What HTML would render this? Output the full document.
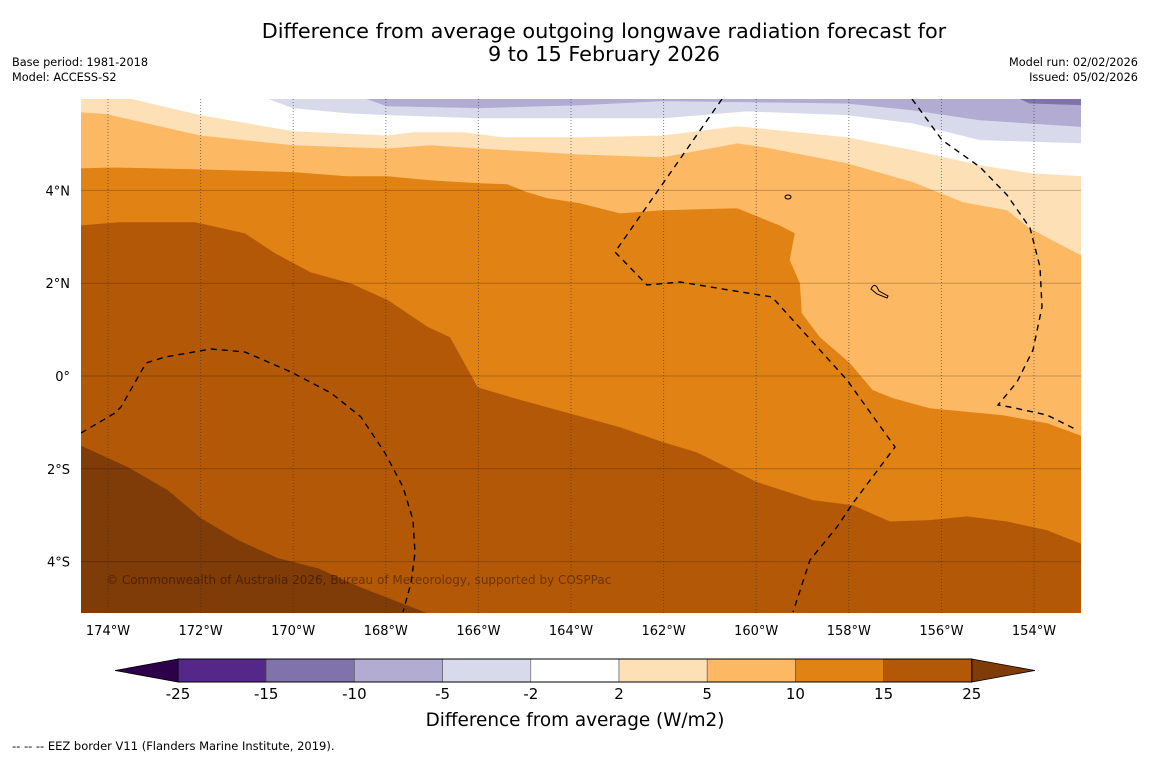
<!DOCTYPE html>
<html><head><meta charset="utf-8">
<style>
html,body{margin:0;padding:0;background:#fff;width:1150px;height:758px;overflow:hidden;font-family:"DejaVu Sans","Liberation Sans",sans-serif;}
svg{display:block}
</style></head>
<body>
<svg id="chart" width="1150" height="758" viewBox="0 0 1150 758" xmlns="http://www.w3.org/2000/svg">
<defs><clipPath id="plotclip"><rect x="81" y="99" width="1000" height="514"/></clipPath></defs>
<text x="604" y="38" font-size="20.8" text-anchor="middle" fill="#000">Difference from average outgoing longwave radiation forecast for</text>
<text x="604" y="61" font-size="20.8" text-anchor="middle" fill="#000">9 to 15 February 2026</text>
<text x="12" y="66" font-size="11.3">Base period: 1981-2018</text>
<text x="12" y="81" font-size="11.3">Model: ACCESS-S2</text>
<text x="1138" y="66" font-size="11.3" text-anchor="end">Model run: 02/02/2026</text>
<text x="1138" y="81" font-size="11.3" text-anchor="end">Issued: 05/02/2026</text>
<g id="map" clip-path="url(#plotclip)"></g>
<g id="axes"></g>
<g id="cbar"></g>
<text x="575" y="726" font-size="18.4" text-anchor="middle">Difference from average (W/m2)</text>
<text x="12" y="750" font-size="11.5">--  --  -- EEZ border V11 (Flanders Marine Institute, 2019).</text>
</svg>
<script>
// ---- data ----
const levels = [-25,-15,-10,-5,-2,2,5,10,15,25];
const levelColors = ["#542788","#8073ac","#b2abd2","#d8daeb","#ffffff","#fee0b6","#fdb863","#e08214","#b35806"];
const underColor = "#2d004b";
const overColor = "#7f3b08";
const lonTicks = [-174,-172,-170,-168,-166,-164,-162,-160,-158,-156,-154];
const latTicks = [4,2,0,-2,-4];
const latTickLabels = ["4°N","2°N","0°","2°S","4°S"];
// contour boundaries [lon, lat]; region above each line has the next lighter class
const b25 = [[-174.6,-1.49],[-173.57,-1.96],[-172.70,-2.46],[-171.99,-3.06],[-171.19,-3.53],[-170.33,-3.92],[-169.46,-4.14],[-168.54,-4.55],[-167.09,-5.11],[-166.61,-5.26]];
const b15 = [[-174.6,3.25],[-173.78,3.32],[-172.12,3.32],[-171.04,3.08],[-170.39,2.65],[-169.62,2.24],[-168.75,2.00],[-167.95,1.64],[-167.09,1.06],[-166.61,0.84],[-166.01,-0.24],[-165.30,-0.45],[-163.74,-0.88],[-162.94,-1.10],[-162.01,-1.42],[-161.28,-1.64],[-159.98,-2.28],[-158.77,-2.67],[-157.91,-2.78],[-157.11,-3.13],[-156.25,-3.10],[-155.45,-3.02],[-154.58,-3.13],[-153.72,-3.32],[-152.9,-3.64]];
const b10 = [[-174.6,4.48],[-173.89,4.50],[-172.01,4.46],[-170.00,4.40],[-168.84,4.31],[-167.97,4.31],[-166.98,4.22],[-165.97,4.16],[-165.38,4.14],[-164.95,3.97],[-164.52,3.84],[-163.81,3.73],[-162.94,3.51],[-162.01,3.58],[-160.41,3.62],[-159.49,3.25],[-159.16,3.08],[-159.27,2.50],[-159.05,2.00],[-159.01,1.36],[-158.62,0.84],[-157.97,0.28],[-157.48,-0.30],[-157.05,-0.47],[-156.25,-0.69],[-154.67,-0.84],[-153.72,-1.01],[-152.9,-1.31]];
const b5 = [[-174.6,5.69],[-174.02,5.65],[-173.81,5.60],[-172.01,5.19],[-170.00,4.98],[-167.97,4.91],[-167.05,4.98],[-165.97,4.91],[-163.81,4.78],[-162.01,4.72],[-160.41,5.02],[-159.85,4.94],[-158.04,4.59],[-156.61,4.18],[-155.53,3.75],[-154.58,3.58],[-154.09,3.19],[-152.9,2.56]];
const b2 = [[-173.57,6.2],[-173.46,5.97],[-172.01,5.63],[-170.00,5.28],[-167.97,5.19],[-167.41,5.26],[-166.33,5.26],[-165.47,5.15],[-163.81,5.15],[-162.01,5.19],[-160.41,5.39],[-158.04,5.15],[-156.61,4.87],[-155.17,4.55],[-154.09,4.38],[-152.9,4.31]];
const bm2 = [[-171.15,6.2],[-170.00,5.78],[-168.84,5.67],[-167.97,5.63],[-165.97,5.56],[-163.81,5.56],[-162.01,5.56],[-160.20,5.71],[-158.04,5.63],[-156.61,5.45],[-155.17,5.09],[-152.9,5.02]];
const bm5 = [[-169.05,6.2],[-167.97,5.82],[-165.97,5.78],[-163.81,5.84],[-162.01,5.93],[-158.04,5.88],[-156.61,5.73],[-155.17,5.52],[-152.9,5.37]];
const bm10 = [[-154.80,6.2],[-154.09,5.88],[-152.9,5.84]];

// ---- axis functions ----
const X = lon => 108 + (lon + 174) * 46.3;
const Y = lat => 376 - lat * 46.4;
const NS = "http://www.w3.org/2000/svg";
function mk(tag, attrs, parent){const e=document.createElementNS(NS,tag);for(const k in attrs)e.setAttribute(k,attrs[k]);parent.appendChild(e);return e;}

const map = document.getElementById('map');
const bg = mk('rect',{x:81,y:99,width:1000,height:514,fill:overColor},map);


const bounds = [b25,b15,b10,b5,b2,bm2,bm5,bm10];
const fills = [levelColors[8],levelColors[7],levelColors[6],levelColors[5],levelColors[4],levelColors[3],levelColors[2],levelColors[1]];
const names = ['region-15-25','region-10-15','region-5-10','region-2-5','region-neutral','region-minus2-minus5','region-minus5-minus10','region-minus10-minus15'];
bounds.forEach((b,i)=>{
  let pts = b.map(p=>X(p[0]).toFixed(1)+','+Y(p[1]).toFixed(1));
  const last=b[b.length-1], first=b[0];
  pts.push(X(-152.5)+','+Y(last[1]));
  pts.push(X(-152.5)+','+Y(7));
  pts.push(X(first[0]<-174.5?-175:first[0])+','+Y(7));
  if(first[0]<-174.5) pts.unshift(X(-175)+','+Y(first[1]));
  const poly = mk('polygon',{points:pts.join(' '),fill:fills[i],stroke:fills[i],'stroke-width':0.6},map);
  
  
});
// grid
latTicks.forEach(lat=>{
  const l = mk('line',{x1:81,x2:1081,y1:Y(lat),y2:Y(lat),stroke:'#000','stroke-opacity':0.22,'stroke-width':1},map);
  
  
});
lonTicks.forEach(lon=>{
  const l = mk('line',{x1:X(lon),x2:X(lon),y1:99,y2:613,stroke:'#333','stroke-opacity':0.6,'stroke-width':1,'stroke-dasharray':'1,2'},map);
  
  
});
// EEZ borders
const eez = [
 "M81,433 L115,413 L121,407 L146,363 L165,357 L211,349 L245,352 L291,372 L331,393 L361,417 L385,453 L403,487 L413,520 L415,553 L411,583 L403,612",
 "M722,99 L615,252 L647,285 L680,282 L772,297 L847,380 L895,447 L853,503 L837,527 L810,560 L793,612",
 "M912,99 L942,140 L980,167 L1007,195 L1030,228 L1040,267 L1042,307 L1033,350 L1017,382 L998,405 L1010,407 L1047,415 L1077,430"
];
eez.forEach(d=>{
  const p = mk('path',{d:d,fill:'none',stroke:'#000','stroke-width':1.4,'stroke-dasharray':'6,5'},map);
  
  
});
// islands
const isl = mk('path',{d:"M871,289 q3,-6 6,-2 l2,4 l9,5 l-1,2 l-10,-4 z",fill:'none',stroke:'#000','stroke-width':1},map);


const isl2 = mk('ellipse',{cx:788,cy:197,rx:3,ry:2,fill:'none',stroke:'#000','stroke-width':1},map);


const cp = mk('text',{x:106,y:584,'font-size':12,fill:'#000','fill-opacity':0.4},map);
cp.textContent='© Commonwealth of Australia 2026, Bureau of Meteorology, supported by COSPPac';



// axes labels
const axes = document.getElementById('axes');
latTicks.forEach((lat,i)=>{
  const t = mk('text',{x:70,y:Y(lat)+5,'font-size':13,'text-anchor':'end'},axes);
  t.textContent = latTickLabels[i];
  
  
});
lonTicks.forEach(lon=>{
  const t = mk('text',{x:X(lon),y:635,'font-size':13,'text-anchor':'middle'},axes);
  t.textContent = Math.abs(lon)+'°W';
  
  
});

// colorbar
const cb = document.getElementById('cbar');
const cx0=178, cw=88.2, cy=659, ch=23;
levelColors.forEach((c,i)=>{
  const r = mk('rect',{x:cx0+i*cw,y:cy,width:cw,height:ch,fill:c,stroke:'#555','stroke-width':0.6},cb);
  
  
});
const la = mk('polygon',{points:`${cx0},${cy} 115,${cy+ch/2} ${cx0},${cy+ch}`,fill:underColor,stroke:'#000','stroke-width':0.8},cb);


const xe = cx0+9*cw;
const ra = mk('polygon',{points:`${xe},${cy} 1035,${cy+ch/2} ${xe},${cy+ch}`,fill:overColor,stroke:'#000','stroke-width':0.8},cb);


mk('rect',{x:cx0,y:cy,width:9*cw,height:ch,fill:'none',stroke:'#000','stroke-width':1},cb);
levels.forEach((v,i)=>{
  const t = mk('text',{x:cx0+i*cw,y:699,'font-size':15,'text-anchor':'middle'},cb);
  t.textContent = v;
  
  
});
</script>
</body></html>
